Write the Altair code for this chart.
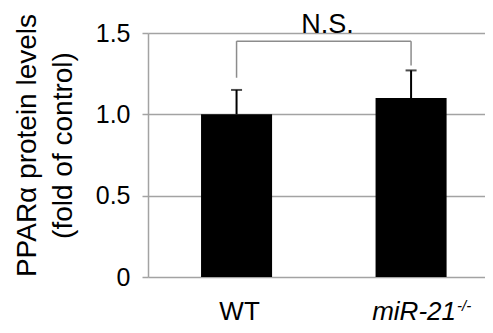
import altair as alt
import pandas as pd

# ---- data ----
groups = ["WT", "miR-21"]
means = [1.00, 1.10]
upper_err = [1.15, 1.27]
superscripts = ["", "-/-"]
bracket_leg_low = [1.225, 1.30]
bracket_top = 1.45
sig_label = "N.S."
y_ticks = [0, 0.5, 1.0, 1.5]
y_title = ["PPARα protein levels", "(fold of control)"]

FONT = "Liberation Sans, Arial, sans-serif"
GRID = "#a3a3a3"
BRACKET = "#8c8c8c"

df = pd.DataFrame({
    "group": groups,
    "mean": means,
    "upper": upper_err,
    "sup": superscripts,
    "leg_low": bracket_leg_low,
    "leg_high": [bracket_top] * len(groups),
})
bracket_df = pd.DataFrame({"g1": [groups[0]], "g2": [groups[1]], "y": [bracket_top], "label": [sig_label]})

xscale = alt.Scale(domain=groups, paddingInner=0.593, paddingOuter=0.262, align=0.58)
yscale = alt.Scale(domain=[0, 1.5], nice=False)

x_enc = alt.X(
    "group:N", scale=xscale, sort=groups,
    axis=alt.Axis(
        title=None, labelAngle=0, domain=False, ticks=False, tickSize=0,
        labelFont=FONT, labelFontSize=26, labelColor="black", labelPadding=21, labelOffset=3,
        labelFontStyle={"condition": {"test": "datum.value == 'miR-21'", "value": "italic"}, "value": "normal"},
    ),
)
y_enc = alt.Y(
    "mean:Q", scale=yscale,
    axis=alt.Axis(
        title=y_title, values=y_ticks,
        labelExpr="datum.value == 0 ? '0' : format(datum.value, '.1f')",
        grid=True, gridColor=GRID, gridWidth=1.5,
        domainColor=GRID, domainWidth=1.5,
        tickColor=GRID, tickSize=6, tickWidth=1.5,
        labelFont=FONT, labelFontSize=25, labelPadding=12, labelColor="black",
        titleFont=FONT, titleFontSize=28, titleFontWeight="normal", titleColor="black",
        titleAngle=-90, titleAlign="center", titleBaseline="top",
        titleX=-135, titleY=112, titleLineHeight=36,
    ),
)

base = alt.Chart(df)
bars = base.mark_bar(color="black").encode(x=x_enc, y=y_enc)
err_rule = base.mark_rule(color="black", strokeWidth=2).encode(
    x=alt.X("group:N"), y=alt.Y("mean:Q"), y2="upper:Q")
err_cap = base.mark_tick(color="black", size=11, thickness=2).encode(
    x=alt.X("group:N"), y=alt.Y("upper:Q"))
legs = base.mark_rule(color=BRACKET, strokeWidth=1.5).encode(
    x=alt.X("group:N"), y=alt.Y("leg_low:Q"), y2="leg_high:Q")
sup = base.mark_text(font=FONT, fontSize=15, fontStyle="italic", align="left",
                     baseline="alphabetic", dx=46, dy=34, color="black").encode(
    x=alt.X("group:N"), y=alt.datum(0), text="sup:N")

bchart = alt.Chart(bracket_df)
bracket_h = bchart.mark_rule(color=BRACKET, strokeWidth=1.5).encode(
    x=alt.X("g1:N"), x2="g2:N", y=alt.Y("y:Q"))
ns = bchart.mark_text(font=FONT, fontSize=27, align="center", baseline="alphabetic",
                      dx=91, dy=0, color="black").encode(
    x=alt.X("g1:N"), y=alt.datum(1.5), text="label:N")

chart = alt.layer(bars, err_rule, err_cap, legs, bracket_h, ns, sup).properties(
    width=337, height=244,
    autosize=alt.AutoSizeParams(type="none"),
    padding={"left": 140, "top": 25, "right": 0, "bottom": 48},
    background="white",
).configure_view(stroke=None)

chart.save("out.html", embed_options={"renderer": "svg", "actions": False})
